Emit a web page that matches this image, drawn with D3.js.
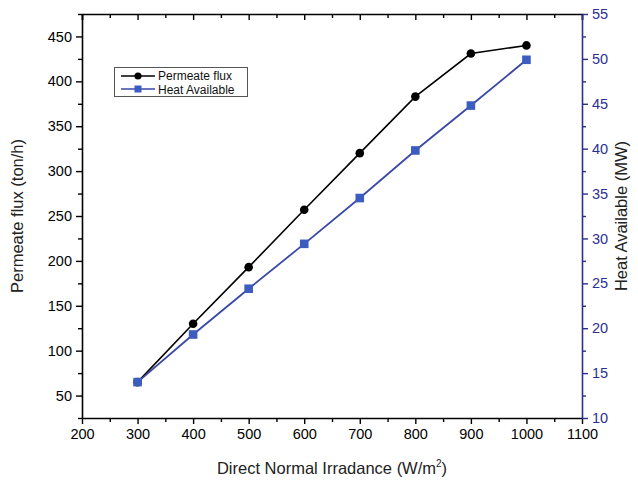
<!DOCTYPE html>
<html><head><meta charset="utf-8">
<script src="https://cdn.jsdelivr.net/npm/d3@7"></script>
<style>body{margin:0;background:#fff}svg{display:block}text{font-family:"Liberation Sans",Arial,sans-serif}</style>
</head><body><svg id="c" width="638" height="486"></svg>
<script>
const irradiance = [300,400,500,600,700,800,900,1000];
const permeateFlux = [65,130,193,257,320,383,431,440];
const heatAvailable = [14,19.3,24.4,29.4,34.5,39.8,44.8,49.9];
const xTicks = [200,300,400,500,600,700,800,900,1000,1100];
const yLeftTicks = [50,100,150,200,250,300,350,400,450];
const yRightTicks = [10,15,20,25,30,35,40,45,50,55];

const svg = d3.select("#c");
const L=82,R=582,T=14,B=418;
const blueAxis="#2b3090", blueLine="#3a48a6", blueMark="#3c5cbf";
const x=d3.scaleLinear().domain([200,1100]).range([L,R]);
const yl=d3.scaleLinear().domain([25,475]).range([B,T]);
const yr=d3.scaleLinear().domain([10,55]).range([B,T]);
const fmt=d3.format("d");

function styleAxis(g,color){
  g.selectAll("path").attr("stroke",color).attr("stroke-width",1.6);
  g.selectAll("line").attr("stroke",color).attr("stroke-width",1.4);
  g.selectAll("text").attr("fill",color).style("font-size","14.5px");
}
const xMinor=d3.range(250,1100,100);
const ylMinor=d3.range(25,476,50);
const yrMinor=d3.range(12.5,55,5);

svg.append("g").attr("transform",`translate(0,${B})`).call(d3.axisBottom(x).tickValues(xMinor).tickSize(4).tickFormat("")).call(g=>{g.select("path").remove();styleAxis(g,"#000");});
svg.append("g").attr("transform",`translate(0,${T})`).call(d3.axisBottom(x).tickValues(xMinor).tickSize(4).tickFormat("")).call(g=>{g.select("path").remove();styleAxis(g,"#000");});
svg.append("g").attr("transform",`translate(0,${T})`).call(d3.axisBottom(x).tickValues(xTicks).tickSize(6).tickFormat("")).call(g=>{styleAxis(g,"#000");});
svg.append("g").attr("transform",`translate(${L},0)`).call(d3.axisLeft(yl).tickValues(ylMinor).tickSize(4).tickFormat("")).call(g=>{g.select("path").remove();styleAxis(g,"#000");});
svg.append("g").attr("transform",`translate(${R},0)`).call(d3.axisRight(yr).tickValues(yrMinor).tickSize(4).tickFormat("")).call(g=>{g.select("path").remove();styleAxis(g,blueAxis);});

svg.append("g").attr("transform",`translate(0,${B})`).call(d3.axisBottom(x).tickValues(xTicks).tickFormat(fmt).tickSize(6).tickPadding(5).tickSizeOuter(0)).call(g=>styleAxis(g,"#000"));
svg.append("g").attr("transform",`translate(${L},0)`).call(d3.axisLeft(yl).tickValues(yLeftTicks).tickFormat(fmt).tickSize(6).tickPadding(4).tickSizeOuter(0)).call(g=>styleAxis(g,"#000"));
svg.append("g").attr("transform",`translate(${R},0)`).call(d3.axisRight(yr).tickValues(yRightTicks).tickFormat(fmt).tickSize(6).tickPadding(4).tickSizeOuter(0)).call(g=>styleAxis(g,blueAxis));

svg.append("text").attr("x",(L+R)/2).attr("y",474).attr("text-anchor","middle").style("font-size","16.5px").attr("fill","#222")
  .html('Direct Normal Irradance (W/m<tspan dy="-7" font-size="10px">2</tspan><tspan dy="7">)</tspan>');
svg.append("text").attr("transform",`translate(23,${(T+B)/2}) rotate(-90)`).attr("text-anchor","middle").style("font-size","16.5px").attr("fill","#222").text("Permeate flux (ton/h)");
svg.append("text").attr("transform",`translate(627,${(T+B)/2}) rotate(-90)`).attr("text-anchor","middle").style("font-size","16.5px").attr("fill","#222").text("Heat Available (MW)");

const lf=d3.line().x((d,i)=>x(irradiance[i])).y(d=>yl(d));
const lh=d3.line().x((d,i)=>x(irradiance[i])).y(d=>yr(d));
svg.append("path").datum(permeateFlux).attr("d",lf).attr("fill","none").attr("stroke","#000").attr("stroke-width",1.6);
svg.append("path").datum(heatAvailable).attr("d",lh).attr("fill","none").attr("stroke",blueLine).attr("stroke-width",1.8);
svg.selectAll(".pf").data(permeateFlux).enter().append("circle").attr("cx",(d,i)=>x(irradiance[i])).attr("cy",d=>yl(d)).attr("r",4.3).attr("fill","#000");
svg.selectAll(".ha").data(heatAvailable).enter().append("rect").attr("x",(d,i)=>x(irradiance[i])-4.3).attr("y",d=>yr(d)-4.3).attr("width",8.6).attr("height",8.6).attr("fill",blueMark);

const lg=svg.append("g");
lg.append("rect").attr("x",114.5).attr("y",67.5).attr("width",133).attr("height",29).attr("fill","#fff").attr("stroke","#555").attr("stroke-width",1);
lg.append("line").attr("x1",121).attr("x2",155).attr("y1",76).attr("y2",76).attr("stroke","#000").attr("stroke-width",1.6);
lg.append("circle").attr("cx",138).attr("cy",76).attr("r",3.6).attr("fill","#000");
lg.append("line").attr("x1",121).attr("x2",155).attr("y1",89).attr("y2",89).attr("stroke",blueLine).attr("stroke-width",1.6);
lg.append("rect").attr("x",134.5).attr("y",85.5).attr("width",7).attr("height",7).attr("fill",blueMark);
lg.append("text").attr("x",158).attr("y",80.2).style("font-size","12px").attr("fill","#111").text("Permeate flux");
lg.append("text").attr("x",158).attr("y",93.5).style("font-size","12px").attr("fill","#111").text("Heat Available");
</script></body></html>
